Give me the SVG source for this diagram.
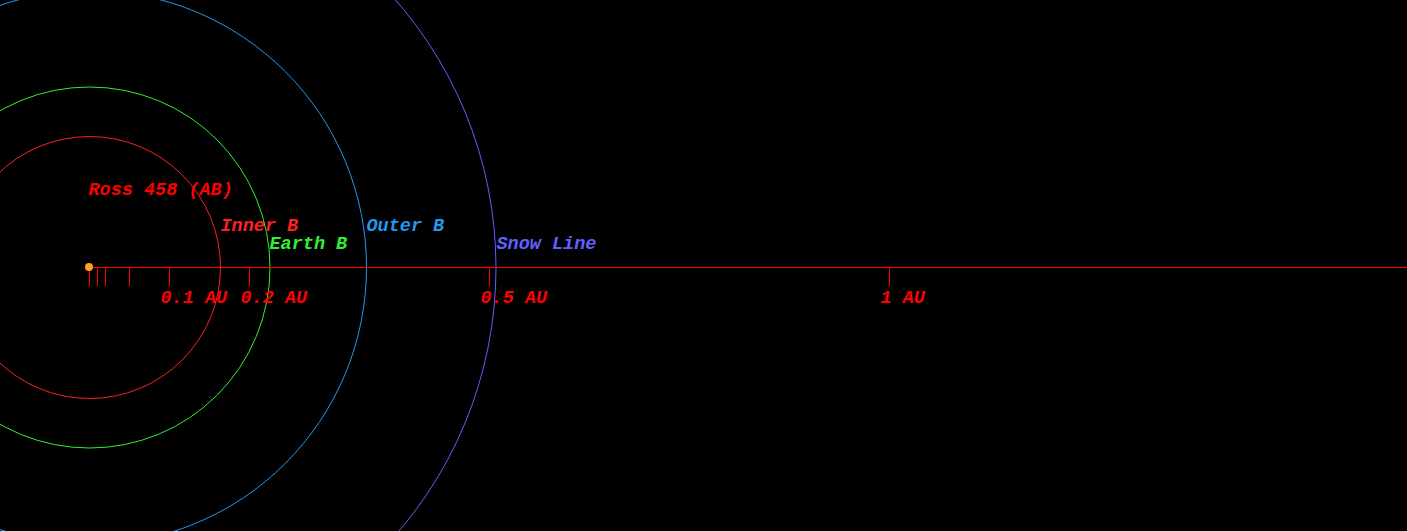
<svg xmlns="http://www.w3.org/2000/svg" width="1407" height="531" viewBox="0 0 1407 531">
<style>
text{font-family:"Liberation Mono","Courier New",monospace;font-weight:bold;font-style:italic;font-size:18.5px}
.orb{fill:none;stroke-width:1}
.tick{stroke:#ff0000;stroke-width:1}
</style>
<rect width="1407" height="531" fill="#000"/>
<g id="orbits">
<circle id="inner-b" class="orb" cx="89.5" cy="267.5" r="131" stroke="#ff2020"/>
<circle id="earth-b" class="orb" cx="89.5" cy="267.5" r="180.5" stroke="#33ee33"/>
<circle id="outer-b" class="orb" cx="89.5" cy="267.5" r="277" stroke="#2299ee"/>
<circle id="snow-line" class="orb" cx="89.5" cy="267.5" r="406.5" stroke="#6060ff"/>
</g>
<g id="scale">
<line x1="89" y1="267.5" x2="1407" y2="267.5" stroke="#ff0000"/>
<line class="tick" x1="89.5" y1="267" x2="89.5" y2="286"/>
<line class="tick" x1="97.5" y1="267" x2="97.5" y2="286"/>
<line class="tick" x1="105.5" y1="267" x2="105.5" y2="286"/>
<line class="tick" x1="129.5" y1="267" x2="129.5" y2="286"/>
<line class="tick" x1="169.5" y1="267" x2="169.5" y2="286"/>
<line class="tick" x1="249.5" y1="267" x2="249.5" y2="286"/>
<line class="tick" x1="489.5" y1="267" x2="489.5" y2="286"/>
<line class="tick" x1="889.5" y1="267" x2="889.5" y2="286"/>
<text x="160.5" y="303" fill="#ff0000">0.1 AU</text>
<text x="240.5" y="303" fill="#ff0000">0.2 AU</text>
<text x="480.5" y="303" fill="#ff0000">0.5 AU</text>
<text x="880.5" y="303" fill="#ff0000">1 AU</text>
</g>
<g id="star">
<circle cx="89" cy="267" r="4" fill="#ffa020"/>
<text x="88.5" y="195" fill="#ff0000">Ross 458 (AB)</text>
</g>
<g id="labels">
<text x="220.5" y="231" fill="#ff2020">Inner B</text>
<text x="269.5" y="249" fill="#33ee33">Earth B</text>
<text x="366.5" y="231" fill="#2299ee">Outer B</text>
<text x="496.5" y="249" fill="#6060ff">Snow Line</text>
</g>
</svg>
